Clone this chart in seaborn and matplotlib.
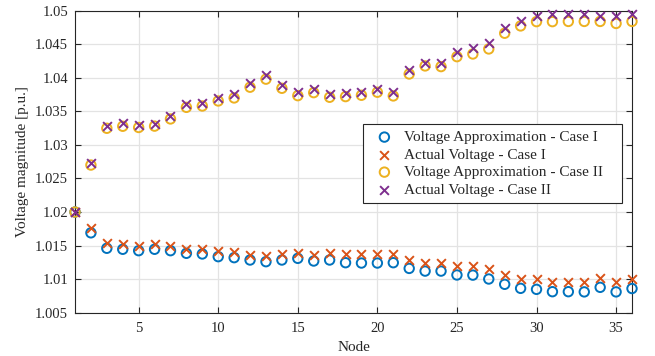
import numpy as np
import pandas as pd
import matplotlib
matplotlib.use("Agg")
import matplotlib.pyplot as plt
import seaborn as sns
from matplotlib.ticker import FuncFormatter, FixedLocator

nodes = list(range(1, 37))

approx_case1 = [1.0200, 1.0169, 1.0146, 1.01445, 1.01424, 1.01445, 1.01424, 1.01385, 1.01375, 1.01335,
                1.0132, 1.01285, 1.0126, 1.01285, 1.0131, 1.0127, 1.01285, 1.01245, 1.0124, 1.0124,
                1.01245, 1.0116, 1.0112, 1.0112, 1.01062, 1.0106, 1.01002, 1.00923, 1.00863, 1.00848,
                1.00813, 1.00813, 1.0081, 1.00878, 1.0081, 1.0086]
actual_case1 = [1.0200, 1.01758, 1.01543, 1.0152, 1.0150, 1.0152, 1.0150, 1.01445, 1.01445, 1.01424,
                1.0141, 1.0136, 1.01345, 1.01375, 1.01394, 1.0136, 1.0139, 1.01375, 1.01375, 1.01375,
                1.0138, 1.01285, 1.01245, 1.0124, 1.01196, 1.0119, 1.01147, 1.01062, 1.01002, 1.0100,
                1.00962, 1.00962, 1.0096, 1.01022, 1.0096, 1.0100]
approx_case2 = [1.0200, 1.0270, 1.03248, 1.03278, 1.0326, 1.0328, 1.03387, 1.0356, 1.0358, 1.03655,
                1.0370, 1.0386, 1.0398, 1.03844, 1.03734, 1.03779, 1.0371, 1.0372, 1.0374, 1.03785,
                1.0373, 1.04057, 1.04177, 1.04167, 1.04315, 1.04355, 1.0443, 1.04664, 1.04773, 1.04837,
                1.04837, 1.0484, 1.0484, 1.0484, 1.0481, 1.0484]
actual_case2 = [1.0200, 1.02736, 1.03278, 1.03323, 1.03297, 1.03312, 1.03436, 1.0361, 1.0363, 1.03695,
                1.03755, 1.03919, 1.04042, 1.03893, 1.03794, 1.03834, 1.03759, 1.0377, 1.03794, 1.03839,
                1.0379, 1.04117, 1.0422, 1.0422, 1.0438, 1.0444, 1.04515, 1.04738, 1.04852, 1.04922,
                1.04947, 1.0495, 1.0495, 1.0492, 1.0492, 1.0495]

labels = ["Voltage Approximation - Case I", "Actual Voltage - Case I",
          "Voltage Approximation - Case II", "Actual Voltage - Case II"]
colors = ["#0072BD", "#D95319", "#EDB120", "#7E2F8E"]

sns.set_theme(style="white")
plt.rcParams["font.family"] = ["Liberation Serif", "DejaVu Serif"]
plt.rcParams["mathtext.fontset"] = "stix"

fig = plt.figure(figsize=(6.55, 3.56), dpi=100)
ax = fig.add_axes([75/655, 1 - 312.7/356, (632 - 75)/655, (312.7 - 10.7)/356])

series = [approx_case1, actual_case1, approx_case2, actual_case2]
for vals, lab, col in zip(series, labels, colors):
    if "Approximation" in lab:
        sns.scatterplot(x=nodes, y=vals, ax=ax, marker="o", s=46, facecolors="none",
                        edgecolor=col, linewidth=1.4, label=lab, zorder=3, clip_on=False)
    else:
        sns.scatterplot(x=nodes, y=vals, ax=ax, marker="x", s=40, color=col,
                        linewidth=1.4, label=lab, zorder=4, clip_on=False)

ax.set_xlim(1, 36)
ax.set_ylim(1.005, 1.05)
ax.xaxis.set_major_locator(FixedLocator([5, 10, 15, 20, 25, 30, 35]))
yt = [1.005 + 0.005 * i for i in range(10)]
ax.yaxis.set_major_locator(FixedLocator(yt))
ax.yaxis.set_major_formatter(FuncFormatter(lambda v, p: ("%.3f" % v).rstrip("0").rstrip(".")))

ax.grid(True, color="#e3e3e3", linewidth=0.9)
ax.set_axisbelow(True)
for sp in ax.spines.values():
    sp.set_color("#262626")
    sp.set_linewidth(0.8)
ax.tick_params(direction="in", length=4, width=0.8, colors="#262626", labelsize=10.5,
               top=True, right=True, bottom=True, left=True)
ax.tick_params(axis="x", pad=7)
ax.tick_params(axis="y", pad=5)
for t in ax.get_xticklabels() + ax.get_yticklabels():
    t.set_color("#262626")

ax.set_xlabel("Node", fontsize=11, color="#262626", labelpad=4)
ax.set_ylabel("Voltage magnitude [p.u.]", fontsize=11, color="#262626", labelpad=4)

lx0 = (363 - 75) / 557
lw = (622 - 363) / 557
ltop = (312.7 - 124.3) / 302
leg = ax.legend(loc="upper left", bbox_to_anchor=(lx0, ltop - 0.3, lw, 0.3), mode="expand",
                borderaxespad=0, fontsize=11, frameon=True, fancybox=False, labelspacing=0.25,
                handletextpad=0.3, borderpad=0.4, handlelength=2.0)
leg.get_frame().set_edgecolor("#262626")
leg.get_frame().set_linewidth(0.8)
leg.get_frame().set_alpha(1)

fig.savefig("out.png", dpi=100)
